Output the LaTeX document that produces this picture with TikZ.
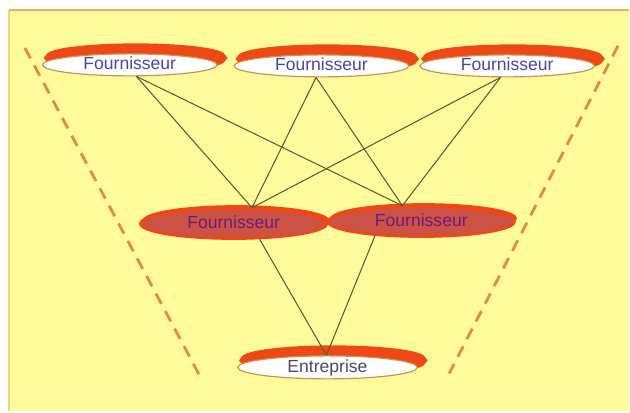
\documentclass[tikz,border=0pt]{standalone}
\usepackage{fontspec}
\setmainfont{Liberation Sans}
\usepackage{xcolor}
\usetikzlibrary{shapes.geometric, shadows}

\definecolor{bgyellow}{RGB}{255,250,155}
\definecolor{topline}{RGB}{240,175,95}
\definecolor{leftline}{RGB}{235,215,120}
\definecolor{tanline}{RGB}{205,145,75}
\definecolor{glowred}{RGB}{238,72,22}
\definecolor{midfill}{RGB}{204,82,70}
\definecolor{supblue}{RGB}{70,70,170}
\definecolor{midpurple}{RGB}{105,30,125}
\definecolor{entgray}{RGB}{70,75,95}
\definecolor{linkgreen}{RGB}{85,95,50}
\definecolor{dashorange}{RGB}{225,140,70}

\begin{document}
\begin{tikzpicture}[
    x=0.03cm, y=-0.03cm,
    supplier/.style={ellipse, draw=tanline, fill=white, line width=1pt, minimum width=5.25cm, minimum height=0.66cm, inner sep=0pt, text height=1.5ex, text depth=0pt, font=\fontsize{15}{18}\selectfont, text=supblue, general shadow={fill=glowred, draw=glowred, line width=6pt, shadow xshift=5pt, shadow yshift=6pt}},
    midsupplier/.style={ellipse, draw=glowred, fill=midfill, line width=2.2pt, minimum width=5.6cm, minimum height=0.9cm, inner sep=0pt, text height=1.5ex, text depth=0pt, font=\fontsize{15}{18}\selectfont, text=midpurple, general shadow={fill=glowred, shadow xshift=2pt, shadow yshift=3pt}},
    company/.style={supplier, minimum width=5.4cm, minimum height=0.69cm, text=entgray},
    link/.style={draw=linkgreen, line width=0.9pt},
    funnel/.style={draw=dashorange, line width=2.4pt, dash pattern=on 10pt off 7pt}
]
    % Background
    \fill[white] (0,0) rectangle (630,412);
    \fill[bgyellow] (9,10) rectangle (630,412);
    \draw[leftline, line width=1.5pt] (9,10) -- (9,412);
    \draw[topline, line width=1.8pt] (9,10) -- (630,10);

    % Funnel edges
    \coordinate (ltop) at (25,48);
    \coordinate (lbot) at (202,380);
    \coordinate (rtop) at (619,46);
    \coordinate (rbot) at (450,374);
    \draw[funnel] (ltop) -- (lbot);
    \draw[funnel] (rtop) -- (rbot);

    % Row 1: suppliers
    \node (sup1) at (130,65) [supplier] {Fournisseur};
    \node (sup2) at (322,66) [supplier] {Fournisseur};
    \node (sup3) at (508,66) [supplier] {Fournisseur};

    % Row 2: intermediate suppliers
    \node (mid1) at (234,224) [midsupplier] {Fournisseur};
    \node (mid2) at (422,222) [midsupplier] {Fournisseur};

    % Row 3: company
    \node (firm) at (328,368) [company] {Entreprise};

    % Links row 1 -> row 2
    \draw [link] (sup1.-60) -- (mid1.41);
    \draw [link] (sup1.-60) -- (mid2.140);
    \draw [link] (sup2.-115) -- (mid1.41);
    \draw [link] (sup2.-115) -- (mid2.140);
    \draw [link] (sup3.-120) -- (mid1.41);
    \draw [link] (sup3.-120) -- (mid2.140);

    % Links row 2 -> company
    \draw [link] (mid1.-31) -- (firm.95);
    \draw [link] (mid2.-163) -- (firm.95);
\end{tikzpicture}
\end{document}
